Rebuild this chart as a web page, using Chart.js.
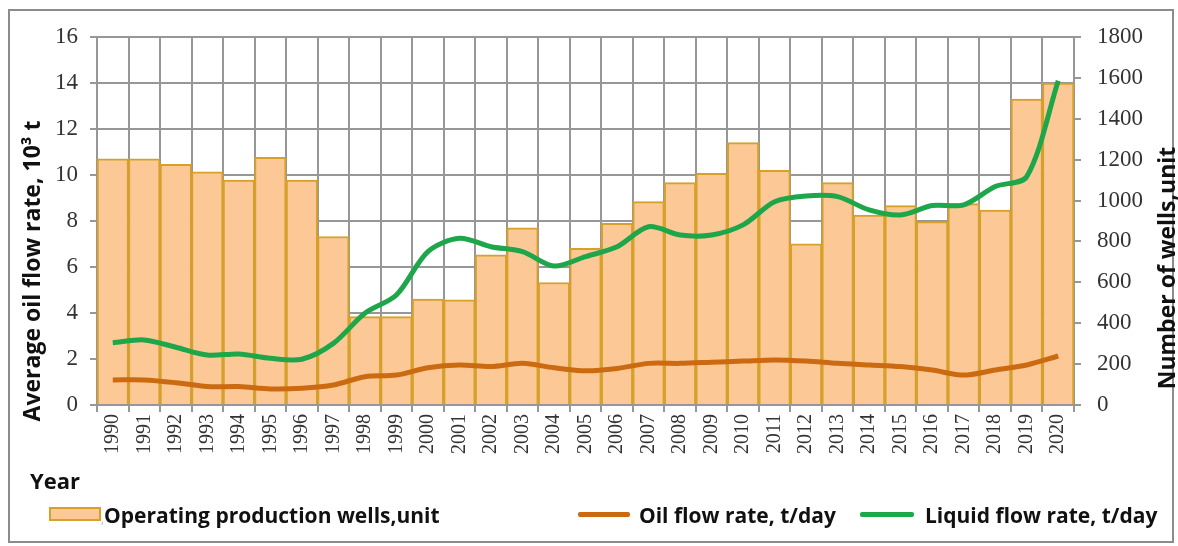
<!DOCTYPE html>
<html>
<head>
<meta charset="utf-8">
<script src="https://cdn.jsdelivr.net/npm/chart.js@4/dist/chart.umd.min.js"></script>
<style>
    html, body { margin: 0; padding: 0; background: #fff; }
    #wrap { position: relative; width: 1178px; height: 546px; overflow: hidden; }
    #frame { position: absolute; left: 8px; top: 9px; width: 1162px; height: 530px; border: 2px solid #8c8c8c; pointer-events: none; }
    .txt { position: absolute; font-family: 'Open Sans', sans-serif; font-weight: 700; font-size: 21px; color: #111; white-space: nowrap; line-height: 26px; }
    .title { font-size: 23px; }
    .rot { transform: translate(-50%, -50%) rotate(-90deg); }
    .swatch { position: absolute; }
</style>
</head>
<body>
<div id="wrap">
    <canvas id="chart" width="1178" height="546"></canvas>
    <div id="frame"></div>

    <div class="txt title rot" style="left:31px; top:271px;">Average oil flow rate, 10³ t</div>
    <div class="txt title rot" style="left:1166px; top:268px;">Number of wells,unit</div>
    <div class="txt" style="left:30px; top:467px; font-size:22px;">Year</div>

    <!-- legend -->
    <div class="swatch" style="left:49px; top:507px; width:48px; height:10px; background:#fcc996; border:2px solid #d6a02a;"></div>
    <div class="txt" style="left:101px; top:502px;"><span style="color:#bbb;font-weight:400;font-size:12px;">,</span>Operating production wells,unit</div>
    <div class="swatch" style="left:578px; top:512px; width:52px; height:5px; background:#cc6a12; border-radius:2px;"></div>
    <div class="txt" style="left:639px; top:502px;">Oil flow rate, t/day</div>
    <div class="swatch" style="left:860px; top:512px; width:54px; height:5px; background:#1ea64a; border-radius:2px;"></div>
    <div class="txt" style="left:925px; top:502px;">Liquid flow rate, t/day</div>
</div>

<script>
'use strict';

// data
const years = ['1990','1991','1992','1993','1994','1995','1996','1997','1998','1999',
               '2000','2001','2002','2003','2004','2005','2006','2007','2008','2009',
               '2010','2011','2012','2013','2014','2015','2016','2017','2018','2019','2020'];

// operating production wells, unit (right axis)
const wells = [1204, 1204, 1177, 1141, 1100, 1212, 1100, 824, 432, 432,
               518, 514, 734, 867, 599, 766, 889, 995, 1088, 1133,
               1283, 1148, 788, 1088, 929, 975, 897, 985, 954, 1496, 1575];

// oil flow rate, t/day (left axis)
const oilRate = [1.09, 1.09, 0.97, 0.80, 0.80, 0.70, 0.73, 0.87, 1.23, 1.30,
                 1.62, 1.74, 1.67, 1.81, 1.62, 1.49, 1.59, 1.81, 1.81, 1.86,
                 1.91, 1.96, 1.91, 1.81, 1.74, 1.67, 1.52, 1.30, 1.52, 1.74, 2.13];

// liquid flow rate, t/day (left axis)
const liquidRate = [2.71, 2.83, 2.51, 2.17, 2.22, 2.03, 1.99, 2.68, 3.99, 4.78,
                    6.67, 7.25, 6.88, 6.67, 6.04, 6.45, 6.88, 7.75, 7.39, 7.39,
                    7.83, 8.84, 9.09, 9.06, 8.48, 8.26, 8.67, 8.70, 9.50, 9.93, 14.1];

const leftTicks = { min: 0, max: 16, step: 2 };
const rightTicks = { min: 0, max: 1800, step: 200 };

(function(){

    const gridColor = '#979797';
    const tickFont = { family: "'Liberation Serif', serif", size: 23 };
    const xFont = { family: "'Liberation Serif', serif", size: 20 };

    function plain(value) {
        return String(value);
    }

    let ctx = document.getElementById('chart').getContext('2d');

    new Chart(ctx, {
        data: {
            labels: years,
            datasets: [
                {
                    type: 'line',
                    label: 'Liquid flow rate, t/day',
                    data: liquidRate,
                    yAxisID: 'y',
                    borderColor: '#1ea64a',
                    borderWidth: 5,
                    pointRadius: 0,
                    tension: 0.3,
                    order: 0,
                },
                {
                    type: 'line',
                    label: 'Oil flow rate, t/day',
                    data: oilRate,
                    yAxisID: 'y',
                    borderColor: '#cc6a12',
                    borderWidth: 5,
                    pointRadius: 0,
                    tension: 0.3,
                    order: 1,
                },
                {
                    type: 'bar',
                    label: 'Operating production wells,unit',
                    data: wells,
                    yAxisID: 'y1',
                    backgroundColor: '#fcc996',
                    borderColor: '#d6a02a',
                    borderWidth: 2,
                    barPercentage: 1,
                    categoryPercentage: 1,
                    order: 2,
                },
            ],
        },
        options: {
            responsive: false,
            animation: false,
            layout: { padding: { top: 37, left: 0, right: 0, bottom: 0 } },
            plugins: {
                legend: { display: false },
                tooltip: { enabled: false },
            },
            scales: {
                x: {
                    offset: true,
                    grid: { offset: true, color: gridColor, lineWidth: 2, tickLength: 7 },
                    border: { color: gridColor, width: 2 },
                    ticks: {
                        autoSkip: false, minRotation: 90, maxRotation: 90,
                        font: xFont, color: '#333', padding: 2,
                    },
                    afterFit: function(scale) { scale.height = 141; },
                },
                y: {
                    position: 'left',
                    min: leftTicks.min, max: leftTicks.max,
                    grid: { color: gridColor, lineWidth: 2, tickLength: 7 },
                    border: { color: gridColor, width: 2 },
                    ticks: { stepSize: leftTicks.step, font: tickFont, color: '#333', padding: 12, callback: plain },
                    afterFit: function(scale) { scale.width = 97; },
                },
                y1: {
                    position: 'right',
                    min: rightTicks.min, max: rightTicks.max,
                    grid: { drawOnChartArea: false, color: gridColor, lineWidth: 2, tickLength: 7 },
                    border: { color: gridColor, width: 2 },
                    ticks: { stepSize: rightTicks.step, font: tickFont, color: '#333', padding: 16, callback: plain },
                    afterFit: function(scale) { scale.width = 104; },
                },
            },
        },
    });
})();
</script>
</body>
</html>
